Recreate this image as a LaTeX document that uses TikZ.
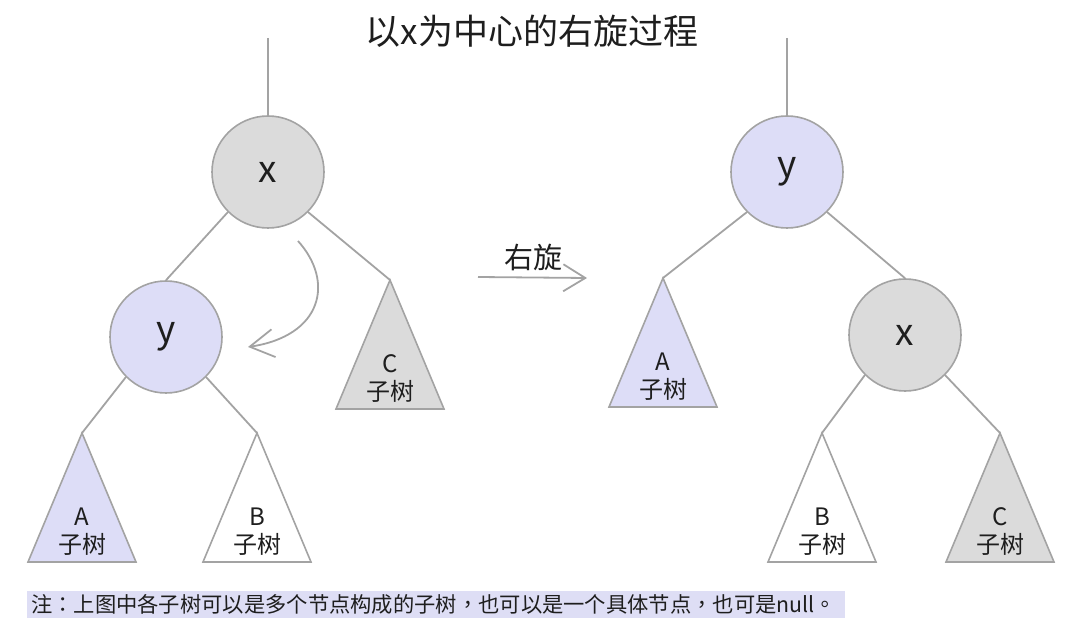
\documentclass[tikz,border=0pt]{standalone}
\usepackage{fontspec}
\setmainfont{Noto Sans CJK SC}
\newfontfamily\notefont{Noto Sans CJK TC}
\usetikzlibrary{arrows.meta}
\definecolor{nodegray}{HTML}{DBDBDB}
\definecolor{nodeblue}{HTML}{DDDDF7}
\definecolor{edgegray}{HTML}{A3A3A3}
\definecolor{notebg}{HTML}{DEDEF5}
\definecolor{textdark}{HTML}{1E1E1E}
\tikzset{
  keynode/.style={circle, draw=edgegray, line width=1.6pt, minimum size=112pt, inner sep=0pt,
    text=textdark, font=\fontsize{37}{37}\selectfont},
  edge/.style={draw=edgegray, line width=1.8pt},
  subtree/.style={draw=edgegray, line width=1.6pt, line join=miter},
  sublabel/.style={text=textdark, font=\fontsize{24}{24}\selectfont, inner sep=0pt}
}

\begin{document}
\begin{tikzpicture}[x=1pt,y=-1pt]
\useasboundingbox (0,0) rectangle (1080,644);
% title
\node[text=textdark, font=\fontsize{35}{35}\selectfont] (title) at (532,31) {以x为中心的右旋过程};

% left tree
\node[keynode, fill=nodegray] (lx) at (268,172) {x};
\node[keynode, fill=nodeblue] (ly) at (166,337) {y};
\coordinate (ltop) at (268,38);

% right tree
\node[keynode, fill=nodeblue] (ry) at (787,172) {y};
\node[keynode, fill=nodegray] (rx) at (905,335) {x};
\coordinate (rtop) at (787,38);

% subtrees
\foreach \name/\ax/\ay/\col/\lab in {lA/82/433/nodeblue/A, lB/257/433/white/B, lC/390/280/nodegray/C,
    rA/663/278/nodeblue/A, rB/822/433/white/B, rC/1000/433/nodegray/C} {
  \coordinate (\name) at (\ax,\ay);
  \draw[subtree, fill=\col] (\name) -- ++(-54,129) -- ++(108,0) -- cycle;
  \node[sublabel] (\name-lab) at (\ax,\ay+84) {\lab};
  \node[sublabel] (\name-sub) at (\ax,\ay+111) {子树};
}

% edges
\draw[edge] (ltop) -- (lx);
\draw[edge] (lx.south west) -- (ly.north);
\draw[edge] (lx.south east) -- (lC);
\draw[edge] (ly.south west) -- (lA);
\draw[edge] (ly.south east) -- (lB);
\draw[edge] (rtop) -- (ry);
\draw[edge] (ry.south west) -- (rA);
\draw[edge] (ry.south east) -- (rx.north);
\draw[edge] (rx.south west) -- (rB);
\draw[edge] (rx.south east) -- (rC);

% rotation arrows
\coordinate (cs) at (298,241);
\coordinate (ce) at (248,347);
\draw[edge, -{Straight Barb[length=24pt,width=28pt]}] (cs) .. controls (335,282) and (322,336) .. (ce);
\coordinate (rs) at (478,277);
\coordinate (re) at (587,278);
\draw[edge, -{Straight Barb[length=22pt,width=27pt]}] (rs) -- (re);
\node[text=textdark, font=\fontsize{29}{29}\selectfont] (rotlab) at (533,257) {右旋};

% note
\node[fill=notebg, anchor=west, text width=810pt, inner xsep=4pt, minimum height=27pt, align=left,
  text=textdark, font=\notefont\fontsize{21.3}{22}\selectfont] (note) at (27,604)
  {注：上图中各子树可以是多个节点构成的子树，也可以是一个具体节点，也可是null。};
\end{tikzpicture}
\end{document}
